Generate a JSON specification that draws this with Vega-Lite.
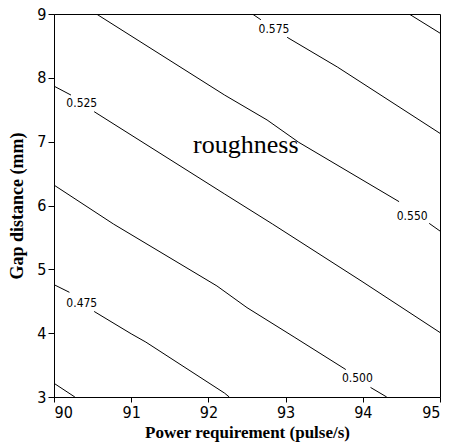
{
  "$schema": "https://vega.github.io/schema/vega-lite/v6.json",
  "width": 386,
  "height": 383,
  "autosize": {"type": "none"},
  "padding": {"left": 54, "top": 14, "right": 9, "bottom": 51},
  "background": "white",
  "config": {
    "view": {"stroke": "black", "strokeWidth": 1},
    "axis": {
      "grid": false,
      "domainColor": "black",
      "tickColor": "black",
      "labelColor": "black",
      "titleColor": "black",
      "labelFont": "DejaVu Sans Condensed",
      "labelFontSize": 16,
      "titleFont": "Liberation Serif",
      "titleFontWeight": "bold",
      "labelPadding": 2
    }
  },
  "datasets": {
    "contours": [
      {"level": "0.450", "seg": "a1", "x": 90.0, "y": 3.215},
      {"level": "0.450", "seg": "a1", "x": 90.27, "y": 3.0},
      {"level": "0.475", "seg": "b1", "x": 90.0, "y": 4.76},
      {"level": "0.475", "seg": "b1", "x": 90.2, "y": 4.64},
      {"level": "0.475", "seg": "b2", "x": 90.52, "y": 4.34},
      {"level": "0.475", "seg": "b2", "x": 91.0, "y": 3.99},
      {"level": "0.475", "seg": "b2", "x": 91.19, "y": 3.86},
      {"level": "0.475", "seg": "b2", "x": 92.21, "y": 3.06},
      {"level": "0.475", "seg": "b2", "x": 92.27, "y": 3.0},
      {"level": "0.500", "seg": "c1", "x": 90.0, "y": 6.32},
      {"level": "0.500", "seg": "c1", "x": 90.77, "y": 5.71},
      {"level": "0.500", "seg": "c1", "x": 92.11, "y": 4.74},
      {"level": "0.500", "seg": "c1", "x": 92.5, "y": 4.4},
      {"level": "0.500", "seg": "c1", "x": 93.11, "y": 3.94},
      {"level": "0.500", "seg": "c1", "x": 93.78, "y": 3.43},
      {"level": "0.500", "seg": "c2", "x": 94.1, "y": 3.15},
      {"level": "0.500", "seg": "c2", "x": 94.31, "y": 3.0},
      {"level": "0.525", "seg": "d1", "x": 90.0, "y": 7.87},
      {"level": "0.525", "seg": "d1", "x": 90.22, "y": 7.73},
      {"level": "0.525", "seg": "d2", "x": 90.52, "y": 7.47},
      {"level": "0.525", "seg": "d2", "x": 92.21, "y": 6.18},
      {"level": "0.525", "seg": "d2", "x": 92.83, "y": 5.71},
      {"level": "0.525", "seg": "d2", "x": 93.99, "y": 4.81},
      {"level": "0.525", "seg": "d2", "x": 95.0, "y": 4.01},
      {"level": "0.550", "seg": "e1", "x": 90.55, "y": 9.0},
      {"level": "0.550", "seg": "e1", "x": 92.21, "y": 7.73},
      {"level": "0.550", "seg": "e1", "x": 92.76, "y": 7.34},
      {"level": "0.550", "seg": "e1", "x": 93.17, "y": 6.99},
      {"level": "0.550", "seg": "e1", "x": 94.47, "y": 6.06},
      {"level": "0.550", "seg": "e2", "x": 94.86, "y": 5.72},
      {"level": "0.550", "seg": "e2", "x": 95.0, "y": 5.6},
      {"level": "0.575", "seg": "f1", "x": 92.57, "y": 9.0},
      {"level": "0.575", "seg": "f1", "x": 92.68, "y": 8.91},
      {"level": "0.575", "seg": "f2", "x": 93.02, "y": 8.635},
      {"level": "0.575", "seg": "f2", "x": 93.67, "y": 8.17},
      {"level": "0.575", "seg": "f2", "x": 95.0, "y": 7.13},
      {"level": "0.600", "seg": "g1", "x": 94.6, "y": 9.0},
      {"level": "0.600", "seg": "g1", "x": 95.0, "y": 8.7}
    ],
    "labels": [
      {"label": "0.475", "x": 90.36, "y": 4.48},
      {"label": "0.500", "x": 93.93, "y": 3.3},
      {"label": "0.525", "x": 90.36, "y": 7.6},
      {"label": "0.550", "x": 94.64, "y": 5.84},
      {"label": "0.575", "x": 92.85, "y": 8.76}
    ],
    "title": [
      {"text": "roughness", "x": 92.485, "y": 6.818}
    ]
  },
  "layer": [
    {
      "data": {"name": "contours"},
      "mark": {"type": "line", "color": "black", "strokeWidth": 1, "clip": true},
      "encoding": {
        "x": {
          "field": "x", "type": "quantitative",
          "scale": {"domain": [90, 95], "nice": false, "zero": false},
          "axis": {"values": [90, 91, 92, 93, 94, 95], "format": "d", "title": "Power requirement (pulse/s)", "titleFontSize": 17, "tickSize": 5, "titlePadding": 4}
        },
        "y": {
          "field": "y", "type": "quantitative",
          "scale": {"domain": [3, 9], "nice": false, "zero": false},
          "axis": {"values": [3, 4, 5, 6, 7, 8, 9], "format": "d", "title": "Gap distance (mm)", "titleFontSize": 18, "tickSize": 6, "titlePadding": 10}
        },
        "detail": {"field": "seg"},
        "order": {"field": "x", "type": "quantitative"}
      }
    },
    {
      "data": {"name": "labels"},
      "mark": {"type": "text", "font": "DejaVu Sans Condensed", "fontSize": 12, "color": "black", "align": "center", "baseline": "middle"},
      "encoding": {
        "x": {"field": "x", "type": "quantitative"},
        "y": {"field": "y", "type": "quantitative"},
        "text": {"field": "label"}
      }
    },
    {
      "data": {"name": "title"},
      "mark": {"type": "text", "font": "Liberation Serif", "fontSize": 26, "color": "black", "align": "center", "baseline": "alphabetic"},
      "encoding": {
        "x": {"field": "x", "type": "quantitative"},
        "y": {"field": "y", "type": "quantitative"},
        "text": {"field": "text"}
      }
    }
  ]
}
